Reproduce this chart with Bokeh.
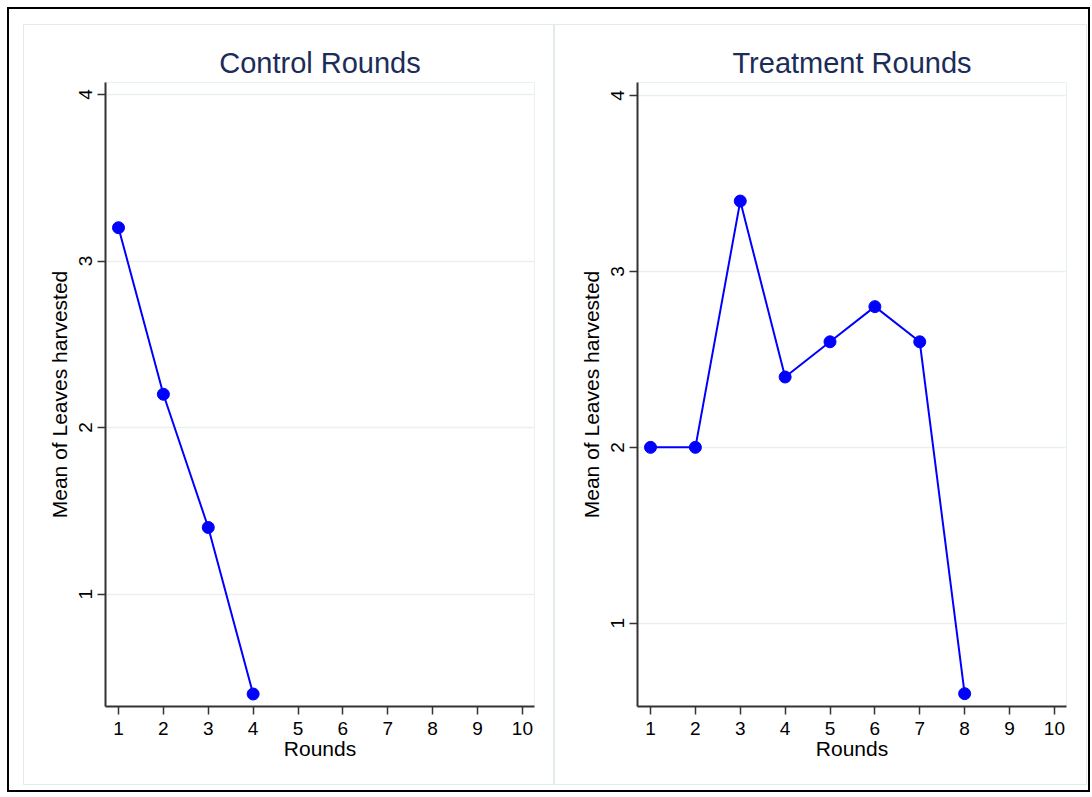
from bokeh.plotting import figure
from bokeh.layouts import row
from bokeh.models import FixedTicker, Range1d
from bokeh.embed import file_html
from bokeh.resources import INLINE

rounds_control = [1, 2, 3, 4]
leaves_control = [3.2, 2.2, 1.4, 0.4]
rounds_treatment = [1, 2, 3, 4, 5, 6, 7, 8]
leaves_treatment = [2.0, 2.0, 3.4, 2.4, 2.6, 2.8, 2.6, 0.6]
x_ticks = [1, 2, 3, 4, 5, 6, 7, 8, 9, 10]
y_ticks = [1, 2, 3, 4]

FONT = "Liberation Sans"
GRID = "#e9f0f2"
PANEL = "#e3ebee"
AXIS = "#333333"


def make_panel(title, xs, ys, yr, w_left, w_right):
    p = figure(
        output_backend="svg", toolbar_location=None,
        frame_width=427, frame_height=622,
        min_border_left=w_left, min_border_right=w_right,
        min_border_top=57, min_border_bottom=80,
        x_range=Range1d(0.71, 10.27), y_range=Range1d(*yr),
        title=title,
        styles={"border": f"1px solid {PANEL}", "box-sizing": "border-box"},
    )
    p.title.align = "center"
    p.title.text_font = FONT
    p.title.text_font_size = "29px"
    p.title.text_font_style = "normal"
    p.title.text_color = "#1c2c58"
    p.title.standoff = 8
    p.outline_line_color = GRID
    p.background_fill_color = "white"
    p.border_fill_color = "white"

    p.xgrid.visible = False
    p.ygrid.grid_line_color = GRID
    p.ygrid.grid_line_width = 1.5

    p.xaxis.ticker = FixedTicker(ticks=x_ticks)
    p.yaxis.ticker = FixedTicker(ticks=y_ticks)
    p.xaxis.axis_label = "Rounds"
    p.yaxis.axis_label = "Mean of Leaves harvested"

    for ax in (p.xaxis, p.yaxis):
        ax.axis_line_color = AXIS
        ax.axis_line_width = 2
        ax.major_tick_line_color = AXIS
        ax.major_tick_line_width = 1.5
        ax.major_tick_out = 8
        ax.major_tick_in = 0
        ax.minor_tick_line_color = None
        ax.major_label_text_font = FONT
        ax.major_label_text_font_size = "19px"
        ax.major_label_text_color = "black"
        ax.axis_label_text_font = FONT
        ax.axis_label_text_font_size = "21px"
        ax.axis_label_text_font_style = "normal"
        ax.axis_label_text_color = "black"

    p.yaxis.major_label_orientation = "vertical"
    p.xaxis.major_label_standoff = 7
    p.yaxis.major_label_standoff = 5
    p.xaxis.axis_label_standoff = -1
    p.yaxis.axis_label_standoff = 6

    p.line(xs, ys, line_color="#0000ff", line_width=2)
    p.scatter(xs, ys, size=12, fill_color="#0000ff", line_color="#0000ff")
    return p


p1 = make_panel("Control Rounds", rounds_control, leaves_control, (0.325, 4.072), 81, 21)
p2 = make_panel("Treatment Rounds", rounds_treatment, leaves_treatment, (0.527, 4.074), 82, 22)

layout = row(p1, p2, styles={
    "border": "2px solid black",
    "padding": "15px 1px 5px 14px",
    "margin-left": "7px",
    "margin-top": "7px",
    "background-color": "white",
    "box-sizing": "border-box",
})

open("out.html", "w").write(file_html(layout, INLINE))
